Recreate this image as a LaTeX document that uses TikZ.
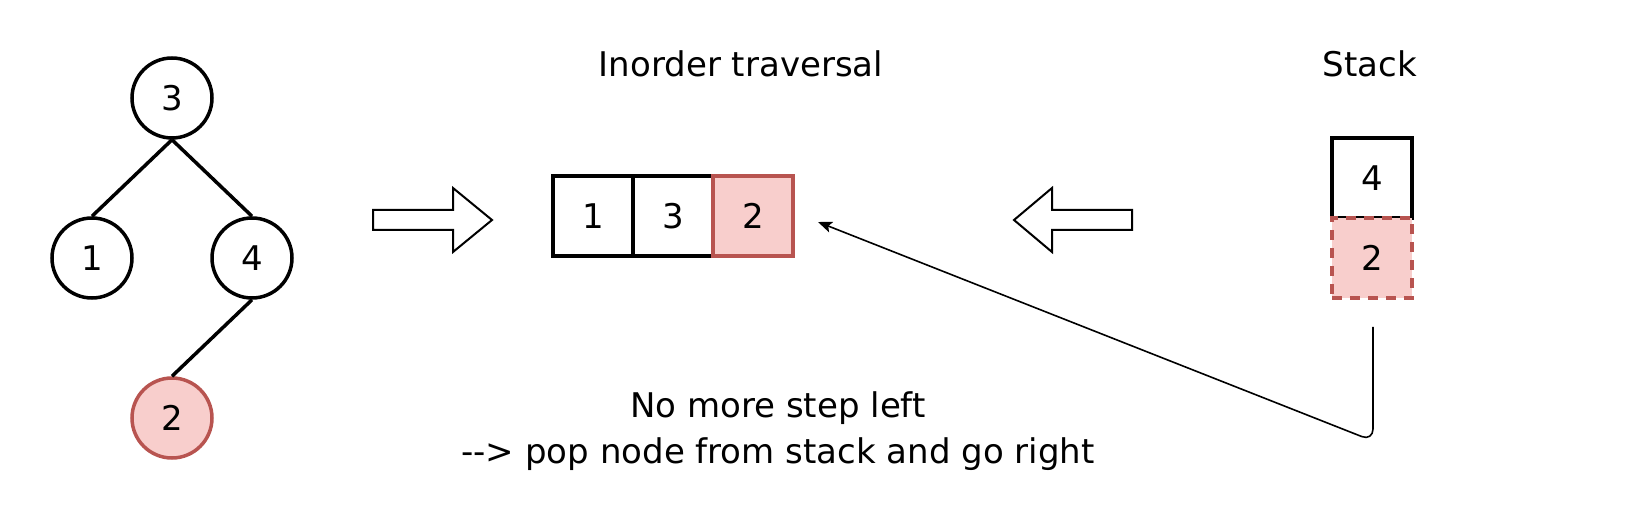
\documentclass[tikz,border=0pt]{standalone}
\usepackage{fontspec}
\setmainfont{DejaVu Sans}
\usetikzlibrary{arrows.meta}
\definecolor{redfill}{HTML}{F8CECC}
\definecolor{redline}{HTML}{B85450}
\tikzset{
  txt/.style={font=\fontsize{34}{46}\selectfont, inner sep=0pt},
  treenode/.style={circle, draw=black, line width=3.5pt, minimum size=80pt, inner sep=0pt, font=\fontsize{34}{40}\selectfont},
  rednode/.style={treenode, draw=redline, fill=redfill},
  cell/.style={rectangle, draw=black, line width=3.5pt, minimum width=80pt, minimum height=80pt, inner sep=0pt, font=\fontsize{34}{40}\selectfont},
  redcell/.style={cell, draw=redline, fill=redfill},
  reddash/.style={cell, draw=redline, fill=redfill, dash pattern=on 10pt off 8pt},
  edge/.style={line width=3.5pt},
  blockarrow/.style={draw=black, line width=2pt, fill=white, line join=miter},
  link/.style={line width=1.6pt, rounded corners=12pt, -{Stealth[length=14pt, width=11pt, inset=3pt]}}
}
\begin{document}
\begin{tikzpicture}[x=1pt, y=-1pt]
\useasboundingbox (0,0) rectangle (1648,510);
% tree
\node[treenode] (n3) at (172,98) {3};
\node[treenode] (n1) at (92,258) {1};
\node[treenode] (n4) at (252,258) {4};
\node[rednode] (n2) at (172,418) {2};
\draw[edge] (n3.south) -- (n1.north);
\draw[edge] (n3.south) -- (n4.north);
\draw[edge] (n4.south) -- (n2.north);
% right block arrow
\draw[blockarrow] (373,210) -- (453,210) -- (453,188) -- (492,220) -- (453,252) -- (453,230) -- (373,230) -- cycle;
% inorder array
\node[txt, anchor=base] (title1) at (741,77) {Inorder traversal};
\node[cell] (c1) at (593,216) {1};
\node[cell] (c2) at (673,216) {3};
\node[redcell] (c3) at (753,216) {2};
% left block arrow
\draw[blockarrow] (1132,210) -- (1052,210) -- (1052,188) -- (1014,220) -- (1052,252) -- (1052,230) -- (1132,230) -- cycle;
% stack
\node[txt, anchor=base] (title2) at (1370,77) {Stack};
\node[cell] (s4) at (1372,178) {4};
\node[reddash] (s2) at (1372,258) {2};
% connector
\coordinate (src) at (1373,327);
\coordinate (bend) at (1373,441);
\coordinate (dst) at (818,222);
\draw[link] (src) -- (bend) -- (dst);
% caption
\node[txt, align=center] (caption) at (778,431) {No more step left\\-{}-{}> pop node from stack and go right};
\end{tikzpicture}
\end{document}
